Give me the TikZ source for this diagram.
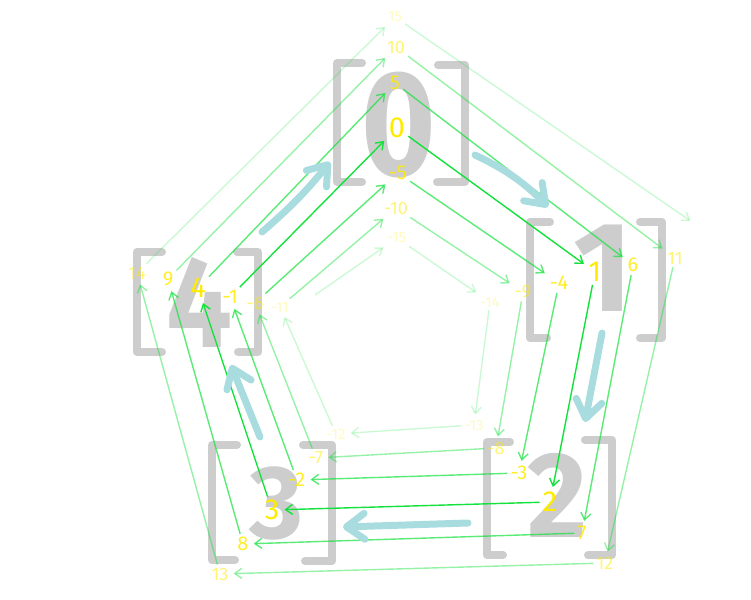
\documentclass[tikz,border=0pt]{standalone}
\usepackage{fontspec}
\setmainfont{Fira Sans}
\usetikzlibrary{arrows.meta}
\definecolor{brk}{HTML}{CDCDCD}
\definecolor{lbl}{HTML}{FFEB00}
\definecolor{grn}{HTML}{14E23C}
\definecolor{cyn}{HTML}{A9DCDE}
\begin{document}
\begin{tikzpicture}[x=1pt,y=-1pt,
  bracket/.style={draw=brk,line width=8pt,line cap=round,line join=round},
  bigdigit/.style={text=brk,inner sep=0pt,font=\bfseries},
  lab/.style={text=lbl,inner sep=3pt},
  lv0/.style={lab,font=\fontsize{29}{29}\selectfont},
  lv1/.style={lab,text opacity=0.85,font=\fontsize{20}{20}\selectfont},
  lv2/.style={lab,text opacity=0.55,font=\fontsize{18}{18}\selectfont},
  lv3/.style={lab,text opacity=0.25,font=\fontsize{15}{15}\selectfont},
  link/.style={draw=grn,line width=1.4pt,shorten >=2pt,
    -{Straight Barb[length=7pt,width=10pt]}},
  flow/.style={draw=cyn,line width=7pt,line cap=round,
    -{Straight Barb[length=18pt,width=26pt,round]}}
]
\useasboundingbox (0,0) rectangle (751,599);

% brackets
\draw[bracket] (362,63) -- (337,63) -- (337,182) -- (362,182);
\draw[bracket] (438,65) -- (465,65) -- (465,182) -- (437,182);
\draw[bracket] (550,222) -- (530,222) -- (530,338) -- (547,338);
\draw[bracket] (640,222) -- (662,222) -- (662,338) -- (640,338);
\draw[bracket] (510,442) -- (487,442) -- (487,555) -- (503,555);
\draw[bracket] (585,440) -- (612,440) -- (612,555) -- (588,555);
\draw[bracket] (237,445) -- (212,445) -- (212,560) -- (235,560);
\draw[bracket] (303,445) -- (332,445) -- (332,561) -- (305,561);
\draw[bracket] (162,252) -- (137,252) -- (137,352) -- (162,352);
\draw[bracket] (237,252) -- (258,252) -- (258,352) -- (238,352);

% big digits
\node[bigdigit,xscale=0.85,font=\bfseries\fontsize{150}{150}\selectfont] (d0) at (399,125) {0};
\node[bigdigit,font=\bfseries\fontsize{128}{128}\selectfont] (d1) at (603,268) {1};
\node[bigdigit,xscale=0.95,font=\bfseries\fontsize{122}{122}\selectfont] (d2) at (557,495) {2};
\node[bigdigit,font=\bfseries\fontsize{104}{104}\selectfont] (d3) at (277,503) {3};
\node[bigdigit,xscale=0.9,font=\bfseries\fontsize{130}{130}\selectfont] (d4) at (200,302) {4};

% labels
\foreach \nm/\x/\y/\t/\s in {
  n0/397/128/0/lv0, n5/395/83/5/lv1, n10/396/47/10/lv2, n15/395/17/15/lv3,
  m5/398/173/-5/lv1, m10/396/208/-10/lv2, m15/397/238/-15/lv3,
  m14/490/302/-14/lv3, m9/523/292/-9/lv2, m4/559/283/-4/lv1,
  n1/595/272/1/lv0, n6/633/265/6/lv1, n11/675/258/11/lv2,
  m13/474/425/-13/lv3, m8/496/448/-8/lv2, m3/519/473/-3/lv1,
  n2/550/502/2/lv0, n7/582/533/7/lv1, n12/605/563/12/lv2,
  m12/336/434/-12/lv3, m7/316/458/-7/lv2, m2/297/480/-2/lv1,
  n3/272/510/3/lv0, n8/243/544/8/lv1, n13/220/574/13/lv2,
  m11/280/307/-11/lv3, m6/255/303/-6/lv2, m1/230/297/-1/lv1,
  n4/198/288/4/lv0, n9/168/279/9/lv1, n14/137/273/14/lv2}
  \node[\s] (\nm) at (\x,\y) {\t};

\coordinate (m16) at (315,295);
\coordinate (n16) at (692,222);

% green links n -> n+1
\foreach \a/\b/\o in {
  m16/m15/0.22, m15/m14/0.22, m14/m13/0.22, m13/m12/0.22, m12/m11/0.22,
  m11/m10/0.45, m10/m9/0.45, m9/m8/0.45, m8/m7/0.45, m7/m6/0.45,
  m6/m5/0.7, m5/m4/0.7, m4/m3/0.7, m3/m2/0.7, m2/m1/0.7,
  m1/n0/1, n0/n1/1, n1/n2/1, n2/n3/1, n3/n4/1,
  n4/n5/0.7, n5/n6/0.7, n6/n7/0.7, n7/n8/0.7, n8/n9/0.7,
  n9/n10/0.45, n10/n11/0.45, n11/n12/0.45, n12/n13/0.45, n13/n14/0.45,
  n14/n15/0.22, n15/n16/0.22}
  \draw[link,draw opacity=\o] (\a) -- (\b);

% cyan flow arrows
\coordinate (f0s) at (475,155); \coordinate (f0e) at (548,207);
\coordinate (f1s) at (602,333); \coordinate (f1e) at (585,422);
\coordinate (f2s) at (468,523); \coordinate (f2e) at (343,527);
\coordinate (f3s) at (260,437); \coordinate (f3e) at (231,365);
\coordinate (f4s) at (262,232); \coordinate (f4e) at (330,162);
\draw[flow] (f0s) to[bend left=10] (f0e);
\draw[flow] (f1s) -- (f1e);
\draw[flow] (f2s) -- (f2e);
\draw[flow] (f3s) -- (f3e);
\draw[flow] (f4s) to[bend right=5] (f4e);
\end{tikzpicture}
\end{document}
